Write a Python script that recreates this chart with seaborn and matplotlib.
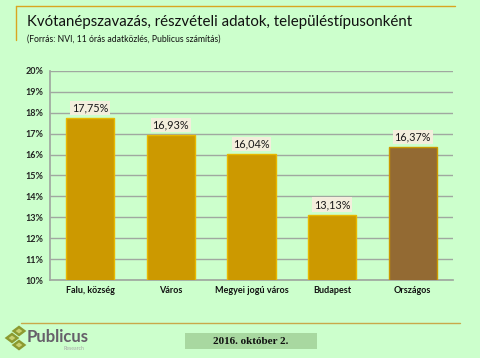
import matplotlib
matplotlib.use("Agg")
import matplotlib.pyplot as plt
import seaborn as sns
import pandas as pd
from matplotlib.patches import Rectangle, RegularPolygon
from matplotlib.lines import Line2D

# adatok
kategoriak = ["Falu, község", "Város", "Megyei jogú város", "Budapest", "Országos"]
reszvetel = [17.75, 16.93, 16.04, 13.13, 16.37]
szinek = ["#CC9900", "#CC9900", "#CC9900", "#CC9900", "#936A33"]
y_ticks = [10, 11, 12, 13, 14, 15, 16, 17, 18, 19, 20]

bg = "#CCFFCC"
sns.set_theme(style="white")
plt.rcParams["font.family"] = ["Lato", "DejaVu Sans"]

fig = plt.figure(figsize=(4.8, 3.58), dpi=100, facecolor=bg)
ax = fig.add_axes([50 / 480, 1 - 280 / 358, 403 / 480, 209 / 358])
ax.set_facecolor(bg)

df = pd.DataFrame({"kat": kategoriak, "val": reszvetel})
sns.barplot(data=df, x="kat", y="val", hue="kat", palette=szinek, legend=False,
            saturation=1, width=0.6, ax=ax, linewidth=1, zorder=3)
for p, c in zip(ax.patches, szinek):
    p.set_edgecolor("#E8B800" if c == "#CC9900" else "#CC9900")

ax.set_ylim(10, 20)
ax.set_yticks(y_ticks)
ax.set_yticklabels([f"{t}%" for t in y_ticks], fontsize=6.5, fontweight="bold", color="#222222")
ax.set_xticklabels(kategoriak, fontsize=6.5, fontweight="bold", color="#111111")
ax.set_xlabel("")
ax.set_ylabel("")
ax.yaxis.grid(True, color="#A0A8A0", linewidth=1, zorder=0)
ax.set_axisbelow(True)
for s in ["top", "right"]:
    ax.spines[s].set_visible(False)
ax.spines["left"].set_color("#A0A8A0")
ax.spines["bottom"].set_color("#A0A8A0")
ax.tick_params(axis="y", length=3, color="#A0A8A0", pad=2)
ax.tick_params(axis="x", length=0, pad=4)

for i, v in enumerate(reszvetel):
    ax.text(i, v + 0.22, f"{v:.2f}%".replace(".", ","), ha="center", va="bottom",
            fontsize=7.8, color="#1A1A1A",
            bbox=dict(boxstyle="square,pad=0.15", fc="#F3EEDC", ec="none"), zorder=5)

# keret vonalak
fig.add_artist(Line2D([16 / 480, 455 / 480], [1 - 6 / 358, 1 - 6 / 358], color="#D9A520", lw=1))
fig.add_artist(Line2D([16 / 480, 16 / 480], [1 - 6 / 358, 1 - 40 / 358], color="#D9A520", lw=1))
fig.add_artist(Line2D([21 / 480, 460 / 480], [1 - 323 / 358, 1 - 323 / 358], color="#C9A84A", lw=1))

fig.text(27 / 480, 1 - 22 / 358, "Kvótanépszavazás, részvételi adatok, településtípusonként",
         fontsize=10.8, va="center", ha="left", color="#111111")
fig.text(27 / 480, 1 - 39 / 358, "(Forrás: NVI, 11 órás adatközlés, Publicus számítás)",
         fontsize=6.2, va="center", ha="left", color="#111111")

# dátum doboz
fig.add_artist(Rectangle((185 / 480, 1 - 349 / 358), 132 / 480, 16 / 358,
                         transform=fig.transFigure, fc="#A8D8A0", ec="none"))
fig.text(251 / 480, 1 - 341 / 358, "2016. október 2.", fontsize=8, fontweight="bold",
         family="Liberation Serif", ha="center", va="center", color="#111111")

# logó
for cx, cy in [(19, 331), (12, 338), (19, 345)]:
    fig.add_artist(RegularPolygon((cx / 480, 1 - cy / 358), 4, radius=5.5 / 358,
                                  transform=fig.transFigure, fc="#8C9A30", ec="none"))
    fig.add_artist(RegularPolygon((cx / 480, 1 - cy / 358), 4, radius=2.5 / 358,
                                  transform=fig.transFigure, fc="#C8D070", ec="none"))
fig.text(27 / 480, 1 - 337 / 358, "Publicus", fontsize=12, fontweight="bold",
         color="#66606A", ha="left", va="center")
fig.text(84 / 480, 1 - 348 / 358, "Research", fontsize=3.8, color="#A8A8A8",
         ha="right", va="center")

fig.savefig("out.png", dpi=100, facecolor=bg)
